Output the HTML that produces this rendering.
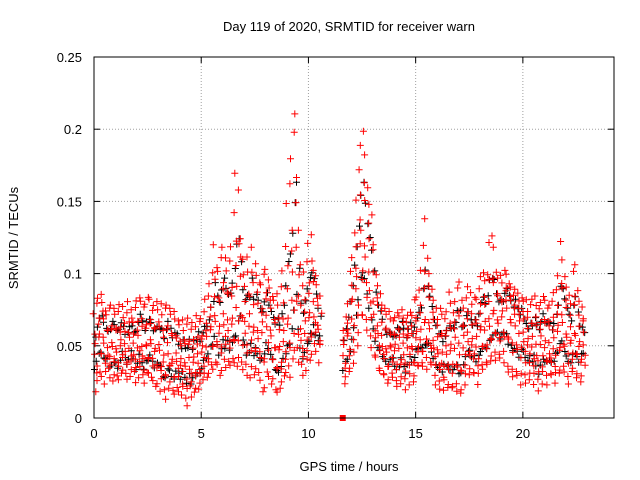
<!DOCTYPE html>
<html><head><meta charset="utf-8"><style>
body{margin:0;background:#fff}
svg{display:block;font-family:"Liberation Sans",sans-serif;font-size:13px}
</style></head><body>
<svg id="chart" width="640" height="480" viewBox="0 0 640 480">
<rect width="640" height="480" fill="#fff"/>
<text x="349" y="31" text-anchor="middle">Day 119 of 2020, SRMTID for receiver warn</text>
<text x="349" y="471" text-anchor="middle">GPS time / hours</text>
<text transform="translate(18,238) rotate(-90)" text-anchor="middle">SRMTID / TECUs</text>
<g id="grid"></g>
<g id="ticks"></g>
<g id="pts"></g>
<rect x="94" y="57" width="520" height="361" fill="none" stroke="#000" stroke-width="1"/>
</svg>
<script>
const xTicks=[0,5,10,15,20];
const yTicks=[0,0.05,0.1,0.15,0.2,0.25];
const yTickLabels=["0","0.05","0.1","0.15","0.2","0.25"];
const seg1Start=0.0, seg2Start=11.6, stepH=0.1;
const seg1Mid=[.045,.05,.055,.06,.055,.05,.05,.045,.05,.05,.05,.045,.05,.055,.05,.045,.05,.055,.05,.045,.05,.055,.05,.045,.05,.05,.055,.05,.045,.05,.05,.045,.04,.045,.05,.045,.04,.04,.045,.04,.035,.04,.04,.035,.04,.035,.04,.04,.045,.04,.045,.05,.05,.055,.06,.065,.07,.065,.06,.065,.07,.065,.07,.06,.065,.07,.075,.09,.1,.07,.065,.06,.065,.07,.06,.065,.06,.055,.06,.065,.07,.065,.06,.055,.05,.05,.045,.05,.055,.06,.065,.07,.08,.1,.12,.08,.06,.055,.06,.065,.07,.075,.08,.07,.065,.06];
const seg1High=[.07,.08,.085,.085,.08,.075,.07,.075,.08,.075,.07,.075,.08,.075,.07,.075,.08,.075,.07,.075,.08,.085,.08,.075,.08,.085,.08,.075,.08,.08,.075,.08,.07,.075,.08,.075,.07,.075,.07,.065,.065,.07,.06,.065,.07,.06,.065,.065,.07,.065,.07,.075,.08,.085,.095,.1,.12,.105,.1,.11,.12,.11,.1,.11,.12,.14,.17,.16,.12,.11,.1,.11,.1,.12,.1,.105,.1,.095,.09,.1,.105,.095,.09,.085,.08,.085,.08,.09,.1,.12,.15,.16,.18,.2,.21,.13,.1,.09,.1,.11,.12,.125,.11,.1,.09,.085];
const seg1Low=[.02,.025,.03,.03,.025,.03,.035,.03,.025,.03,.03,.025,.03,.035,.03,.025,.03,.035,.03,.025,.03,.035,.03,.025,.03,.03,.03,.025,.02,.025,.02,.025,.02,.015,.02,.025,.02,.015,.02,.02,.015,.02,.015,.01,.02,.015,.02,.02,.02,.025,.025,.03,.03,.03,.035,.035,.04,.035,.03,.035,.04,.035,.04,.035,.04,.04,.035,.04,.04,.035,.035,.03,.03,.035,.03,.035,.03,.025,.02,.02,.03,.03,.025,.025,.02,.02,.02,.025,.03,.03,.035,.03,.04,.045,.05,.04,.035,.03,.035,.04,.04,.045,.05,.045,.04,.05];
const seg2Mid=[.045,.05,.055,.06,.07,.08,.09,.1,.12,.13,.12,.11,.1,.09,.08,.07,.065,.06,.055,.05,.05,.045,.05,.05,.045,.05,.05,.055,.05,.045,.05,.055,.05,.05,.055,.06,.055,.06,.065,.07,.065,.06,.055,.05,.045,.045,.04,.045,.05,.045,.045,.05,.05,.055,.05,.045,.05,.055,.06,.055,.05,.055,.05,.055,.06,.065,.06,.065,.07,.065,.07,.075,.07,.065,.07,.075,.08,.075,.07,.065,.07,.065,.06,.065,.06,.055,.05,.055,.05,.055,.05,.045,.05,.055,.05,.055,.05,.045,.05,.055,.06,.065,.07,.065,.06,.055,.05,.055,.06,.055,.05,.055,.05];
const seg2High=[.06,.07,.08,.1,.11,.13,.15,.17,.19,.2,.18,.16,.15,.14,.12,.1,.09,.085,.08,.075,.07,.075,.07,.065,.07,.075,.07,.075,.07,.065,.07,.075,.07,.08,.085,.09,.1,.12,.14,.11,.1,.09,.08,.075,.07,.075,.07,.07,.075,.085,.08,.075,.08,.09,.095,.08,.075,.085,.09,.085,.08,.085,.08,.09,.1,.1,.095,.1,.12,.125,.12,.1,.095,.1,.095,.1,.1,.095,.09,.085,.09,.085,.08,.085,.08,.08,.075,.08,.08,.085,.08,.075,.08,.085,.08,.075,.08,.08,.085,.09,.1,.12,.11,.1,.09,.085,.08,.1,.105,.09,.08,.075,.07];
const seg2Low=[.025,.03,.03,.035,.04,.045,.05,.06,.07,.07,.07,.06,.055,.05,.045,.04,.035,.035,.03,.03,.025,.025,.03,.03,.025,.02,.025,.03,.025,.02,.025,.03,.025,.03,.035,.035,.04,.035,.04,.035,.04,.035,.03,.025,.025,.02,.02,.025,.02,.025,.02,.02,.025,.02,.015,.02,.025,.03,.03,.035,.03,.03,.025,.03,.035,.035,.04,.035,.04,.045,.045,.04,.045,.04,.045,.04,.035,.03,.035,.03,.03,.03,.025,.03,.03,.025,.025,.03,.025,.03,.025,.02,.025,.03,.03,.025,.03,.03,.025,.03,.03,.035,.035,.03,.03,.025,.03,.035,.03,.03,.025,.03,.035];
const markerT=[11.6], markerV=[0];

const NS="http://www.w3.org/2000/svg";
const X0=94,X1=614,Y0=418,Y1=57,XMAX=24.25,YMAX=0.25;
const xs=t=>X0+(X1-X0)*t/XMAX;
const ys=v=>Y0-(Y0-Y1)*v/YMAX;
// visual scatter offsets (pixels), purely cosmetic
const jx=[0,1.3,-0.8,0.6,-1.2,0.9,-0.4,1.1,-1.0,0.3,];
const jy=[0,2.1,-1.6,3.0,-2.7,1.2,-3.2,2.6,-0.9,1.8,-2.2,0.7,-1.3];
let jc=0;
function mk(tag,attrs,parent){const e=document.createElementNS(NS,tag);for(const k in attrs)e.setAttribute(k,attrs[k]);parent.appendChild(e);return e;}
const grid=document.getElementById('grid'),ticks=document.getElementById('ticks'),pts=document.getElementById('pts');
xTicks.forEach((t,i)=>{
  const x=xs(t);
  if(t>0){const l=mk('line',{x1:x,y1:Y0,x2:x,y2:Y1,stroke:'#a0a0a0','stroke-dasharray':'1,2'},grid);
  
  }
  mk('line',{x1:x,y1:Y0,x2:x,y2:Y0-6,stroke:'#000'},ticks);
  mk('line',{x1:x,y1:Y1,x2:x,y2:Y1+6,stroke:'#000'},ticks);
  const tx=mk('text',{x:x,y:Y0+20,'text-anchor':'middle'},ticks);tx.textContent=String(t);
  
  
});
yTicks.forEach((v,i)=>{
  const y=ys(v);
  if(v>0&&v<YMAX){const l=mk('line',{x1:X0,y1:y,x2:X1,y2:y,stroke:'#a0a0a0','stroke-dasharray':'1,2'},grid);
  
  }
  mk('line',{x1:X0,y1:y,x2:X0+6,y2:y,stroke:'#000'},ticks);
  mk('line',{x1:X1,y1:y,x2:X1-6,y2:y,stroke:'#000'},ticks);
  const tx=mk('text',{x:82,y:y+5,'text-anchor':'end'},ticks);tx.textContent=yTickLabels[i];
  
  
});
function cross(t,v,col){
  jc++;
  const x=xs(t)+jx[jc%jx.length],y=ys(v)+jy[jc%jy.length];
  const p=mk('path',{d:`M${(x-3.5).toFixed(1)} ${y.toFixed(1)}h7M${x.toFixed(1)} ${(y-3.5).toFixed(1)}v7`,stroke:col,'stroke-width':1,fill:'none'},pts);
  
  
}
function plotSeg(start,mid,hi,lo){
  mid.forEach((m,i)=>{const t=start+i*stepH;cross(t+0.03,(m+hi[i])/2,'#000');cross(t+0.06,(m+lo[i])/2,'#000');});
  mid.forEach((m,i)=>{
    const t=start+i*stepH,h=hi[i],l=lo[i];
    cross(t,m,'#f00');cross(t+0.02,h,'#f00');cross(t+0.04,l,'#f00');
    cross(t+0.06,(m+h)/2,'#f00');cross(t+0.08,(m+l)/2,'#f00');
  });
}
plotSeg(seg1Start,seg1Mid,seg1High,seg1Low);
plotSeg(seg2Start,seg2Mid,seg2High,seg2Low);
markerT.forEach((t,i)=>{
  const r=mk('rect',{x:xs(t)-3,y:ys(markerV[i])-3,width:6,height:6,fill:'#f00'},pts);
  
  
});
</script>
</body></html>
